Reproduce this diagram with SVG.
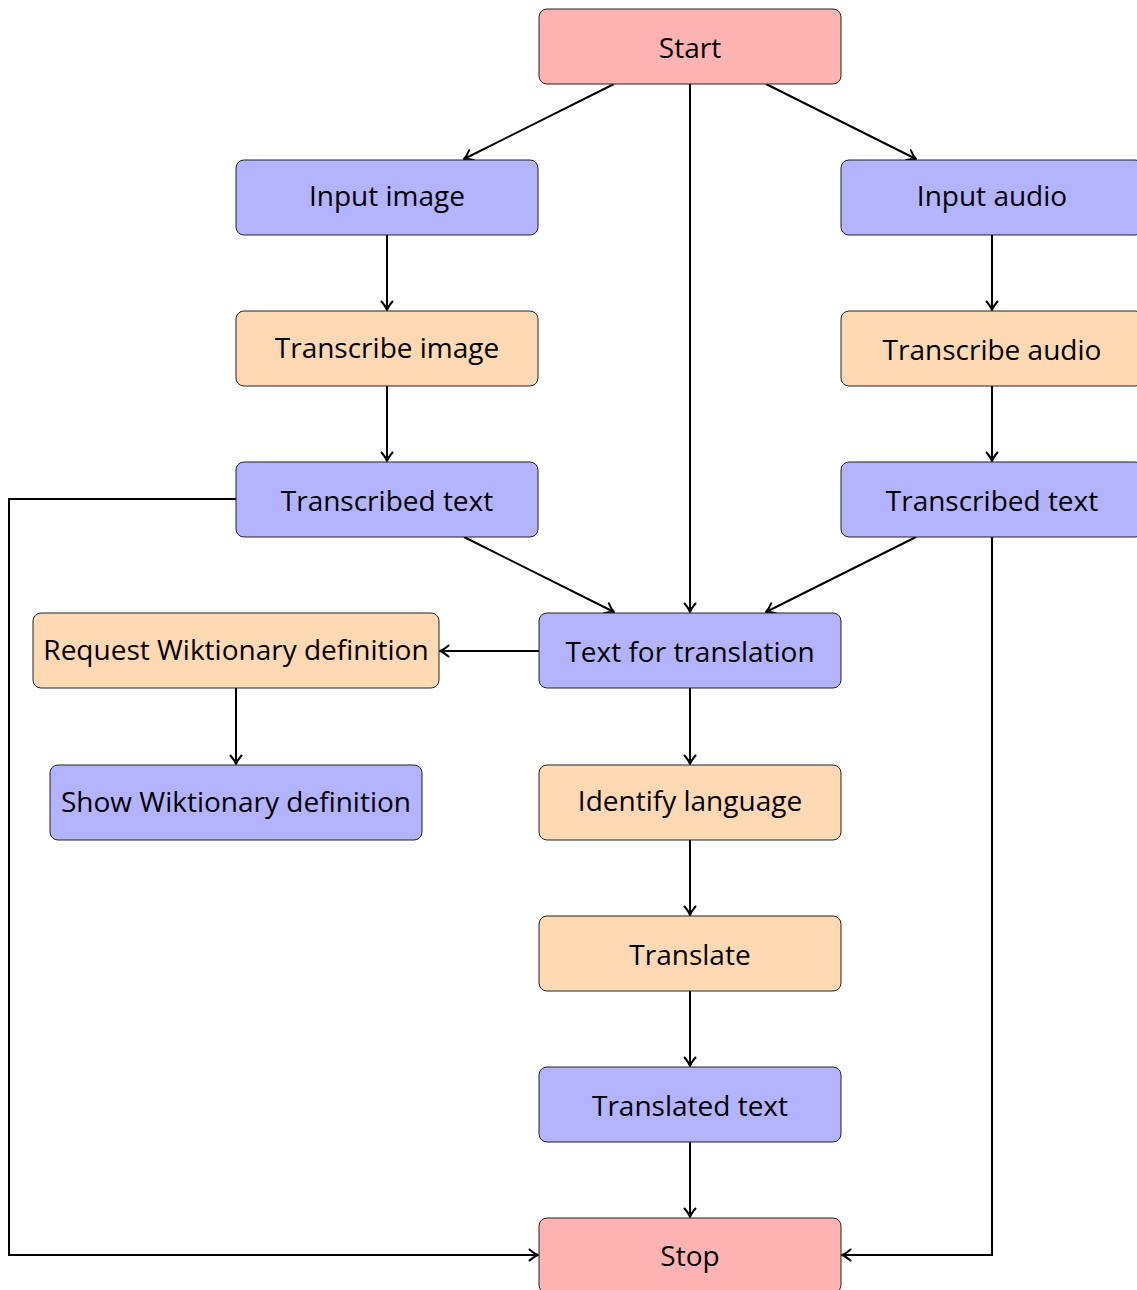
<svg xmlns="http://www.w3.org/2000/svg" width="1137" height="1290" viewBox="0 0 1137 1290">
  <style>
    .node rect { stroke: #222; stroke-width: 1; }
    .terminal rect { fill: #FFB3B3; }
    .data rect { fill: #B3B3FF; }
    .process rect { fill: #FFD9B3; }
    .node text { font-family: "Open Sans", "DejaVu Sans", sans-serif; font-size: 28px; fill: #000; text-anchor: middle; dominant-baseline: central; }
    #edges path { fill: none; stroke: #000; stroke-width: 2; marker-end: url(#arrow); }
  </style>
  <defs>
    <marker id="arrow" viewBox="-10 -7 12 14" markerWidth="12" markerHeight="14" refX="0" refY="0" orient="auto" markerUnits="userSpaceOnUse">
      <path d="M -8.5 -5.5 Q -3.5 -1.2 0 0 Q -3.5 1.2 -8.5 5.5" fill="none" stroke="#000" stroke-width="2" stroke-linecap="round" stroke-linejoin="round"/>
    </marker>
  </defs>

  <!-- connectors -->
  <g id="edges">
    <path d="M 614 84 L 464 159"/>
    <path d="M 766 84 L 916 159"/>
    <path d="M 690 84 L 690 612"/>
    <path d="M 387 235 L 387 310"/>
    <path d="M 387 386 L 387 461"/>
    <path d="M 992 235 L 992 310"/>
    <path d="M 992 386 L 992 461"/>
    <path d="M 464 537 L 614 612"/>
    <path d="M 916 537 L 766 612"/>
    <path d="M 236 499 L 9 499 L 9 1255 L 538 1255"/>
    <path d="M 992 537 L 992 1255 L 842 1255"/>
    <path d="M 539 651 L 440 651"/>
    <path d="M 236 688 L 236 764"/>
    <path d="M 690 688 L 690 764"/>
    <path d="M 690 840 L 690 915"/>
    <path d="M 690 991 L 690 1066"/>
    <path d="M 690 1142 L 690 1217"/>
  </g>

  <!-- nodes -->
  <g id="start" class="node terminal">
    <rect x="539" y="9" width="302" height="75" rx="8"/>
    <text x="690" y="46.5">Start</text>
  </g>
  <g id="input-image" class="node data">
    <rect x="236" y="160" width="302" height="75" rx="8"/>
    <text x="387" y="195">Input image</text>
  </g>
  <g id="input-audio" class="node data">
    <rect x="841" y="160" width="302" height="75" rx="8"/>
    <text x="992" y="195">Input audio</text>
  </g>
  <g id="transcribe-image" class="node process">
    <rect x="236" y="311" width="302" height="75" rx="8"/>
    <text x="387" y="347">Transcribe image</text>
  </g>
  <g id="transcribe-audio" class="node process">
    <rect x="841" y="311" width="302" height="75" rx="8"/>
    <text x="992" y="349">Transcribe audio</text>
  </g>
  <g id="transcribed-text-image" class="node data">
    <rect x="236" y="462" width="302" height="75" rx="8"/>
    <text x="387" y="500">Transcribed text</text>
  </g>
  <g id="transcribed-text-audio" class="node data">
    <rect x="841" y="462" width="302" height="75" rx="8"/>
    <text x="992" y="500">Transcribed text</text>
  </g>
  <g id="text-for-translation" class="node data">
    <rect x="539" y="613" width="302" height="75" rx="8"/>
    <text x="690" y="651">Text for translation</text>
  </g>
  <g id="request-definition" class="node process">
    <rect x="33" y="613" width="406" height="75" rx="8"/>
    <text x="236" y="649">Request Wiktionary definition</text>
  </g>
  <g id="show-definition" class="node data">
    <rect x="50" y="765" width="372" height="75" rx="8"/>
    <text x="236" y="801">Show Wiktionary definition</text>
  </g>
  <g id="identify-language" class="node process">
    <rect x="539" y="765" width="302" height="75" rx="8"/>
    <text x="690" y="800">Identify language</text>
  </g>
  <g id="translate" class="node process">
    <rect x="539" y="916" width="302" height="75" rx="8"/>
    <text x="690" y="954">Translate</text>
  </g>
  <g id="translated-text" class="node data">
    <rect x="539" y="1067" width="302" height="75" rx="8"/>
    <text x="690" y="1105">Translated text</text>
  </g>
  <g id="stop" class="node terminal">
    <rect x="539" y="1218" width="302" height="75" rx="8"/>
    <text x="690" y="1255">Stop</text>
  </g>
</svg>
